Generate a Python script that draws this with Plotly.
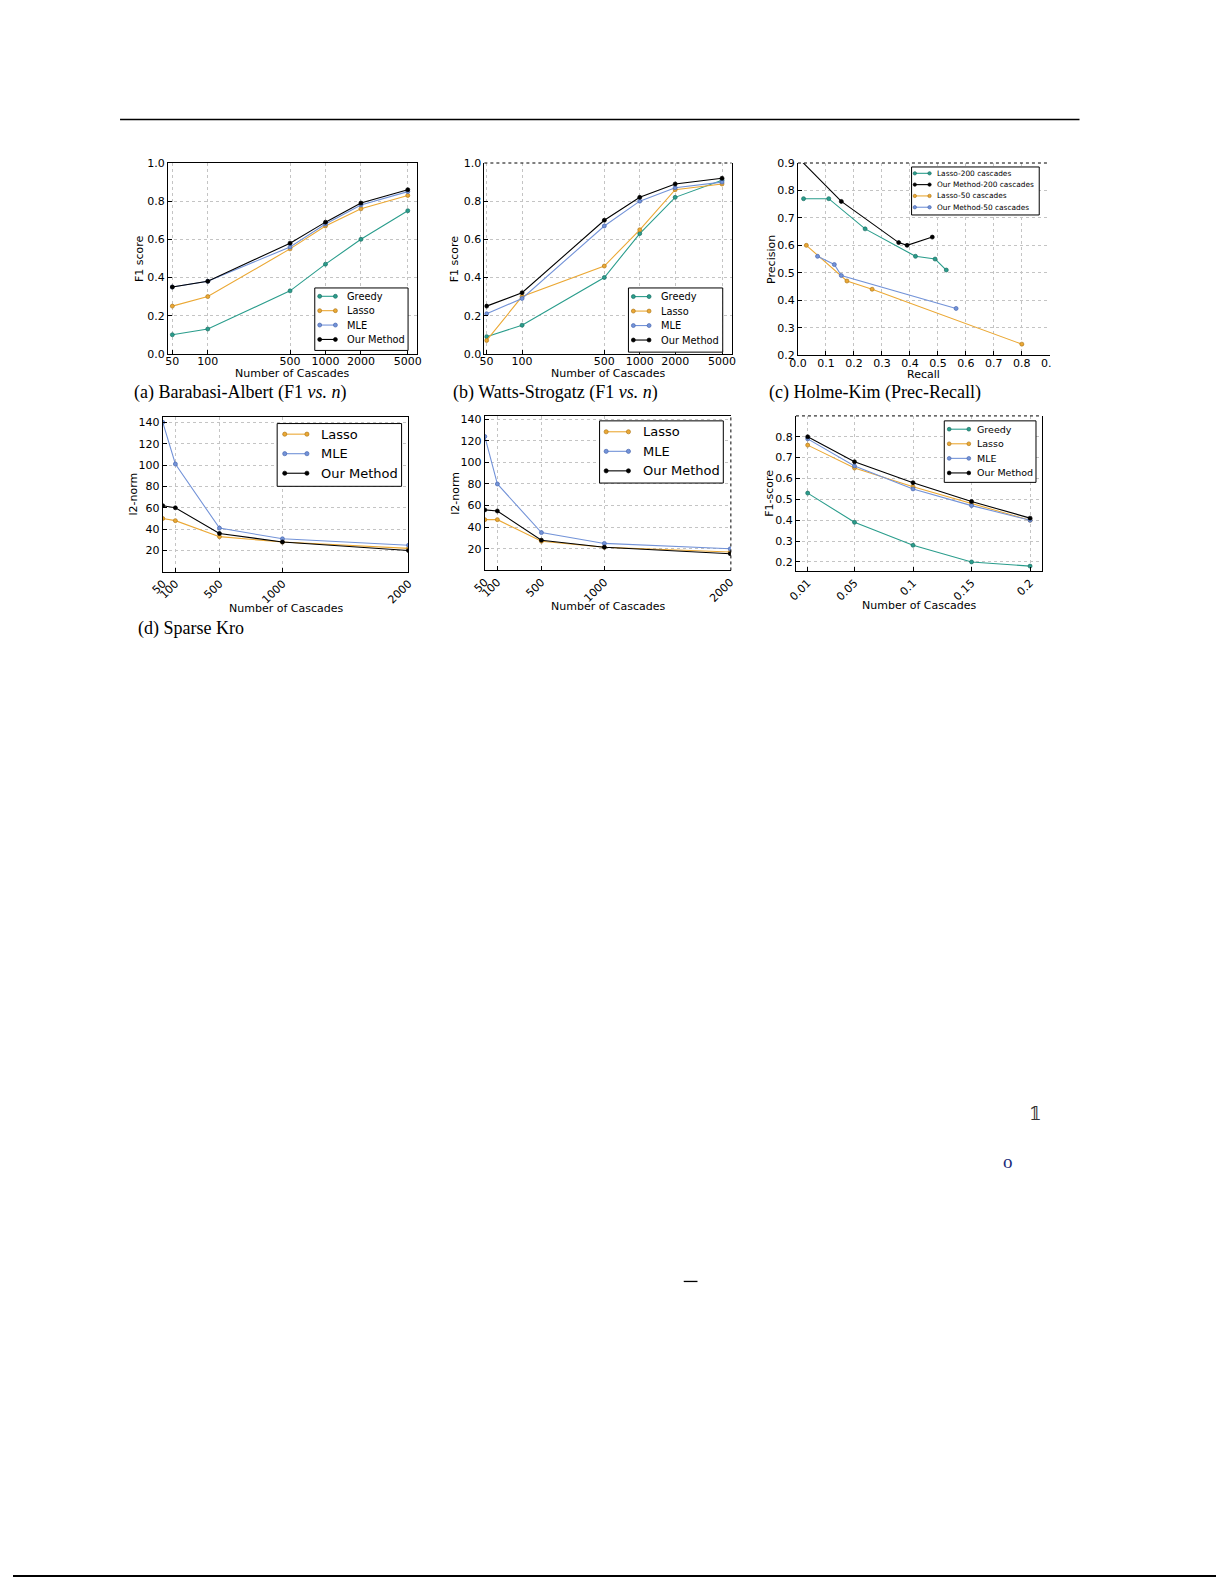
import plotly.graph_objects as go

# full-page figure; the body margin is removed after plotting
OFF = 0
W, H = 1225, 1585

# ---------------- data ----------------
cascades_ab = [50, 100, 500, 1000, 2000, 5000]
cascade_labels_ab = ["50", "100", "500", "1000", "2000", "5000"]

ba_greedy = [0.10, 0.13, 0.33, 0.47, 0.60, 0.75]
ba_lasso = [0.25, 0.30, 0.55, 0.67, 0.76, 0.83]
ba_mle = [0.35, 0.38, 0.56, 0.68, 0.78, 0.85]
ba_ours = [0.35, 0.38, 0.58, 0.69, 0.79, 0.86]

ws_greedy = [0.09, 0.15, 0.40, 0.63, 0.82, 0.91]
ws_lasso = [0.07, 0.30, 0.46, 0.65, 0.86, 0.89]
ws_mle = [0.21, 0.29, 0.67, 0.80, 0.87, 0.90]
ws_ours = [0.25, 0.32, 0.70, 0.82, 0.89, 0.92]

hk_lasso200_recall = [0.02, 0.11, 0.24, 0.42, 0.49, 0.53]
hk_lasso200_prec = [0.77, 0.77, 0.66, 0.56, 0.55, 0.51]
hk_ours200_recall = [0.0, 0.155, 0.36, 0.39, 0.48]
hk_ours200_prec = [0.92, 0.76, 0.61, 0.60, 0.63]
hk_lasso50_recall = [0.03, 0.175, 0.265, 0.80]
hk_lasso50_prec = [0.60, 0.47, 0.44, 0.24]
hk_ours50_recall = [0.07, 0.13, 0.155, 0.565]
hk_ours50_prec = [0.56, 0.53, 0.49, 0.37]

cascades_de = [50, 150, 500, 1000, 2000]
cascade_labels_de = ["50", "100", "500", "1000", "2000"]
kro_lasso = [50, 48, 33, 28, 22]
kro_mle = [140, 101, 41, 31, 25]
kro_ours = [62, 60, 36, 28, 20]
e_lasso = [47, 47, 27, 21.5, 17]
e_mle = [124, 80, 35, 25, 20]
e_ours = [56, 55, 28, 21.5, 15.5]

f_x = [0.01, 0.05, 0.1, 0.15, 0.2]
f_x_labels = ["0.01", "0.05", "0.1", "0.15", "0.2"]
f_greedy = [0.53, 0.39, 0.28, 0.20, 0.18]
f_lasso = [0.76, 0.65, 0.56, 0.48, 0.40]
f_mle = [0.79, 0.66, 0.55, 0.47, 0.40]
f_ours = [0.80, 0.68, 0.58, 0.49, 0.41]

# ---------------- style ----------------
COL = dict(greedy="#2a9d8c", lasso="#eba834", mle="#7393d8", ours="#000000")
EDGE = dict(greedy="#1d6f63", lasso="#b07a1c", mle="#4a68b0", ours="#000000")
FONT = "DejaVu Sans"


def px_x(p):
    return (p - OFF) / W


def px_y(p):
    return 1 - (p - OFF) / H


fig = go.Figure()


def add_series(x, y, key, ax):
    fig.add_trace(go.Scatter(
        x=x, y=y, mode="lines+markers", showlegend=False,
        line=dict(color=COL[key], width=1.1),
        marker=dict(size=4, color=COL[key], line=dict(color=EDGE[key], width=0.7)),
        xaxis="x" + ax, yaxis="y" + ax))


# (a)
add_series(cascades_ab, ba_greedy, "greedy", "")
add_series(cascades_ab, ba_lasso, "lasso", "")
add_series(cascades_ab, ba_mle, "mle", "")
add_series(cascades_ab, ba_ours, "ours", "")
# (b)
add_series(cascades_ab, ws_greedy, "greedy", "2")
add_series(cascades_ab, ws_lasso, "lasso", "2")
add_series(cascades_ab, ws_mle, "mle", "2")
add_series(cascades_ab, ws_ours, "ours", "2")
# (c)
add_series(hk_lasso200_recall, hk_lasso200_prec, "greedy", "3")
add_series(hk_ours200_recall, hk_ours200_prec, "ours", "3")
add_series(hk_lasso50_recall, hk_lasso50_prec, "lasso", "3")
add_series(hk_ours50_recall, hk_ours50_prec, "mle", "3")
# (d)
add_series(cascades_de, kro_lasso, "lasso", "4")
add_series(cascades_de, kro_mle, "mle", "4")
add_series(cascades_de, kro_ours, "ours", "4")
# (e)
add_series(cascades_de, e_lasso, "lasso", "5")
add_series(cascades_de, e_mle, "mle", "5")
add_series(cascades_de, e_ours, "ours", "5")
# (f)
add_series(f_x, f_greedy, "greedy", "6")
add_series(f_x, f_lasso, "lasso", "6")
add_series(f_x, f_mle, "mle", "6")
add_series(f_x, f_ours, "ours", "6")


def axis(dom_px, horizontal, mirror=True, **kw):
    if horizontal:
        dom = [px_x(dom_px[0]), px_x(dom_px[1])]
    else:
        dom = [px_y(dom_px[1]), px_y(dom_px[0])]
    d = dict(domain=dom, showline=True, linecolor="black", linewidth=1,
             mirror=mirror, ticks="inside", ticklen=4, tickcolor="black",
             showgrid=True, gridcolor="#c4c4c4", griddash="dot", gridwidth=1,
             zeroline=False, tickfont=dict(family=FONT, size=11, color="black"))
    if horizontal and "tickangle" not in kw:
        d["ticklabelstandoff"] = -3
    d.update(kw)
    return d


layout = dict(width=W, height=H, margin=dict(l=0, r=0, t=0, b=0),
              paper_bgcolor="white", plot_bgcolor="white", showlegend=False)

yt01 = [0, 0.2, 0.4, 0.6, 0.8, 1.0]
layout["xaxis"] = axis([157.7, 411], True, type="log", range=[1.661, 3.774],
                       tickvals=cascades_ab, ticktext=cascade_labels_ab, anchor="y")
layout["yaxis"] = axis([158.3, 350.7], False, range=[0, 1], tickvals=yt01,
                       tickformat=".1f", anchor="x")
layout["xaxis2"] = axis([480, 731.7], True, mirror=False, type="log", range=[1.680, 3.780],
                        tickvals=cascades_ab, ticktext=cascade_labels_ab, anchor="y2")
layout["yaxis2"] = axis([158.3, 350.7], False, range=[0, 1], tickvals=yt01,
                        tickformat=".1f", anchor="x2")
layout["xaxis3"] = axis([799.3, 1055.8], True, mirror=False, range=[0, 0.9],
                        tickvals=[i / 10 for i in range(10)], tickformat=".1f", anchor="y3",
                        ticklabelstandoff=-2)
layout["yaxis3"] = axis([158.3, 352], False, mirror=False, range=[0.2, 0.9],
                        tickvals=[i / 10 for i in range(2, 10)], tickformat=".1f", anchor="x3")
layout["xaxis4"] = axis([152.5, 402.7], True, range=[50, 2000], tickvals=cascades_de,
                        ticktext=cascade_labels_de, tickangle=-45, anchor="y4")
layout["yaxis4"] = axis([414.4, 570.6], False, range=[0, 145],
                        tickvals=[20, 40, 60, 80, 100, 120, 140], anchor="x4")
layout["xaxis5"] = axis([480.4, 731], True, range=[50, 2005], tickvals=cascades_de,
                        ticktext=cascade_labels_de, tickangle=-45, anchor="y5")
layout["yaxis5"] = axis([413.3, 569.1], False, mirror=False, range=[0, 143],
                        tickvals=[20, 40, 60, 80, 100, 120, 140], anchor="x5")
layout["xaxis6"] = axis([797.3, 1047.6], True, mirror=False, range=[0, 0.21], tickvals=f_x,
                        ticktext=f_x_labels, tickangle=-45, anchor="y6")
layout["yaxis6"] = axis([413.3, 570], False, range=[0.155, 0.9],
                        tickvals=[0.2, 0.3, 0.4, 0.5, 0.6, 0.7, 0.8], tickformat=".1f", anchor="x6")
fig.update_layout(**layout)

shapes = []
annotations = []

# dotted borders
for ax in ["2", "3", "6"]:
    shapes.append(dict(type="line", xref="x%s domain" % ax, yref="y%s domain" % ax,
                       x0=0, x1=1, y0=1, y1=1, line=dict(color="black", width=1, dash="dot")))
shapes.append(dict(type="line", xref="x5 domain", yref="y5 domain",
                   x0=1, x1=1, y0=0, y1=1, line=dict(color="black", width=1, dash="dot")))


def ann(text, x, y, size=11, angle=0, family=FONT, color="black", xanchor="center"):
    annotations.append(dict(text=text, x=px_x(x), y=px_y(y), xref="paper", yref="paper",
                            showarrow=False, textangle=angle, xanchor=xanchor, yanchor="middle",
                            borderpad=0, font=dict(family=family, size=size, color=color)))


# axis titles
ann("Number of Cascades", (157.7 + 411) / 2, 371)
ann("F1 score", 129, (158.3 + 350.7) / 2, angle=-90)
ann("Number of Cascades", (480 + 731.7) / 2, 371)
ann("F1 score", 449, (158.3 + 350.7) / 2, angle=-90)
ann("Recall", (799.3 + 1055.8) / 2, 371.7)
ann("Precision", 771.7, (158.3 + 352) / 2, angle=-90)
ann("Number of Cascades", (152.5 + 402.7) / 2, 607.3)
ann("l2-norm", 122.3, (414.4 + 570.6) / 2, angle=-90)
ann("Number of Cascades", (480.4 + 731) / 2, 605)
ann("l2-norm", 450.7, (413.3 + 569.1) / 2, angle=-90)
ann("Number of Cascades", (797.3 + 1047.6) / 2, 604.3)
ann("F1-score", 770, (413.3 + 570) / 2, angle=-90)


# legends
def legend(box, first_row, step, names, keys, line_x, text_x, size, r):
    x0, y0, x1, y1 = box
    shapes.append(dict(type="rect", xref="paper", yref="paper", x0=px_x(x0), x1=px_x(x1),
                       y0=px_y(y1), y1=px_y(y0), fillcolor="white",
                       line=dict(color="black", width=1), layer="above"))
    for i, (nm, k) in enumerate(zip(names, keys)):
        yy = first_row + i * step
        shapes.append(dict(type="line", xref="paper", yref="paper", x0=px_x(line_x[0]),
                           x1=px_x(line_x[1]), y0=px_y(yy), y1=px_y(yy),
                           line=dict(color=COL[k], width=1.1), layer="above"))
        for cx in line_x:
            shapes.append(dict(type="circle", xref="paper", yref="paper",
                               x0=px_x(cx - r), x1=px_x(cx + r), y0=px_y(yy + r), y1=px_y(yy - r),
                               fillcolor=COL[k], line=dict(color=EDGE[k], width=0.7), layer="above"))
        ann(nm, text_x, yy, size=size, xanchor="left")


four = ["Greedy", "Lasso", "MLE", "Our Method"]
four_k = ["greedy", "lasso", "mle", "ours"]
three = ["Lasso", "MLE", "Our Method"]
three_k = ["lasso", "mle", "ours"]
legend([307.3, 284.3, 402.3, 347.3], 292.7, 14.5, four, four_k, [312.3, 328.3], 339.3, 9.8, 2.0)
legend([626.7, 284.3, 722.7, 349], 293, 14.6, four, four_k, [631.7, 647.7], 659.3, 9.8, 2.0)
legend([915, 162.3, 1045, 210.7], 168.7, 11.4,
       ["Lasso-200 cascades", "Our Method-200 cascades", "Lasso-50 cascades", "Our Method-50 cascades"],
       ["greedy", "ours", "lasso", "mle"], [918.3, 933.3], 940, 7.4, 1.7)
legend([269, 421, 395.7, 484.3], 431.7, 19.7, three, three_k, [276.7, 299.3], 312.3, 13, 2.1)
legend([597.3, 418.3, 723.3, 481], 429.3, 19.7, three, three_k, [604, 626.7], 640.7, 13, 2.1)
legend([948.3, 418.3, 1041.7, 480.3], 426.7, 14.7, four, four_k, [953.3, 973.3], 980.7, 9.5, 1.9)

# panel (c) is cut off at the right edge of the page image
shapes.append(dict(type="rect", xref="paper", yref="paper", x0=px_x(1057), x1=1,
                   y0=px_y(400), y1=px_y(145), fillcolor="white", line=dict(width=0), layer="above"))

# captions
SERIF = "Liberation Serif"
ann("(a) Barabasi-Albert (F1 <i>vs.</i> <i>n</i>)", 122.7, 390, size=18, family=SERIF, xanchor="left")
ann("(b) Watts-Strogatz (F1 <i>vs.</i> <i>n</i>)", 446.7, 390, size=18, family=SERIF, xanchor="left")
ann("(c) Holme-Kim (Prec-Recall)", 768.3, 390, size=18, family=SERIF, xanchor="left")
ann("(d) Sparse Kro", 126.7, 628, size=18, family=SERIF, xanchor="left")

# stray page glyphs
ann("𝟙", 1041, 1117, size=18, family="DejaVu Serif", color="#333333")
ann("o", 1013, 1165, size=19, family=SERIF, color="#1a2a7a")
shapes.append(dict(type="line", xref="paper", yref="paper", x0=px_x(683), x1=px_x(697),
                   y0=px_y(1286), y1=px_y(1286), line=dict(color="black", width=1.3)))

# page rules
shapes.append(dict(type="line", xref="paper", yref="paper", x0=px_x(109), x1=px_x(1086),
                   y0=px_y(114.5), y1=px_y(114.5), line=dict(color="black", width=1.6)))
shapes.append(dict(type="line", xref="paper", yref="paper", x0=0, x1=1,
                   y0=px_y(1583), y1=px_y(1583), line=dict(color="black", width=2)))

fig.update_layout(shapes=shapes, annotations=annotations)

fig.write_html("out.html", config={"displayModeBar": False},
               post_script="document.body.style.margin='0';")
